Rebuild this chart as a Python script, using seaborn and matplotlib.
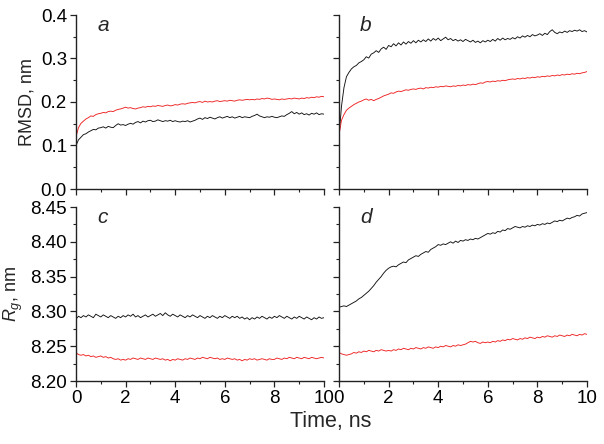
import numpy as np
import pandas as pd
import matplotlib
matplotlib.use("Agg")
import matplotlib.pyplot as plt
import seaborn as sns
from matplotlib.ticker import MultipleLocator

# ---------------- data ----------------
time_ns = np.round(np.linspace(0, 10, 101), 2)

a_red = [
    0.120, 0.141, 0.151, 0.156, 0.161, 0.164, 0.168, 0.167, 0.171, 0.173,
    0.174, 0.176, 0.175, 0.178, 0.179, 0.178, 0.181, 0.183, 0.184, 0.186,
    0.188, 0.186, 0.187, 0.185, 0.184, 0.186, 0.187, 0.189, 0.188, 0.190,
    0.189, 0.191, 0.190, 0.192, 0.191, 0.190, 0.192, 0.193, 0.191, 0.192,
    0.194, 0.193, 0.195, 0.196, 0.195, 0.197, 0.198, 0.199, 0.198, 0.200,
    0.201, 0.199, 0.202, 0.200, 0.201, 0.200, 0.202, 0.203, 0.201, 0.202,
    0.203, 0.202, 0.204, 0.203, 0.202, 0.204, 0.205, 0.204, 0.205, 0.206,
    0.205, 0.206, 0.205, 0.207, 0.206, 0.208, 0.207, 0.209, 0.208, 0.206,
    0.207, 0.206, 0.205, 0.207, 0.206, 0.207, 0.208, 0.207, 0.209, 0.208,
    0.207, 0.209, 0.208, 0.210, 0.209, 0.211, 0.210, 0.212, 0.211, 0.213,
    0.212]

a_black = [
    0.100, 0.113, 0.119, 0.125, 0.127, 0.131, 0.134, 0.137, 0.136, 0.140,
    0.141, 0.143, 0.140, 0.144, 0.142, 0.141, 0.146, 0.150, 0.147, 0.148,
    0.146, 0.149, 0.151, 0.149, 0.153, 0.155, 0.152, 0.156, 0.154, 0.157,
    0.158, 0.155, 0.156, 0.159, 0.157, 0.155, 0.157, 0.156, 0.158, 0.155,
    0.157, 0.155, 0.154, 0.156, 0.155, 0.157, 0.154, 0.156, 0.158, 0.161,
    0.163, 0.160, 0.164, 0.162, 0.165, 0.163, 0.161, 0.164, 0.166, 0.163,
    0.165, 0.167, 0.164, 0.166, 0.163, 0.165, 0.167, 0.164, 0.166, 0.165,
    0.164, 0.167, 0.169, 0.172, 0.168, 0.166, 0.164, 0.166, 0.165, 0.167,
    0.165, 0.164, 0.166, 0.168, 0.167, 0.171, 0.174, 0.178, 0.173, 0.176,
    0.172, 0.175, 0.171, 0.173, 0.170, 0.174, 0.172, 0.175, 0.171, 0.173,
    0.172]

b_black = [
    0.120, 0.190, 0.233, 0.258, 0.268, 0.276, 0.281, 0.284, 0.290, 0.293,
    0.297, 0.304, 0.301, 0.310, 0.313, 0.318, 0.314, 0.322, 0.326, 0.321,
    0.330, 0.327, 0.334, 0.329, 0.336, 0.331, 0.338, 0.333, 0.339, 0.335,
    0.341, 0.336, 0.342, 0.338, 0.343, 0.339, 0.345, 0.340, 0.346, 0.342,
    0.347, 0.341, 0.345, 0.349, 0.343, 0.346, 0.341, 0.344, 0.340, 0.343,
    0.339, 0.344, 0.341, 0.338, 0.342, 0.337, 0.340, 0.336, 0.341, 0.338,
    0.342, 0.339, 0.344, 0.340, 0.346, 0.342, 0.347, 0.343, 0.346, 0.344,
    0.348, 0.345, 0.350, 0.347, 0.352, 0.349, 0.353, 0.350, 0.355, 0.352,
    0.354, 0.357, 0.353, 0.358, 0.355, 0.362, 0.366, 0.360, 0.357, 0.361,
    0.359, 0.363, 0.360, 0.364, 0.362, 0.365, 0.363, 0.366, 0.362, 0.364,
    0.361]

b_red = [
    0.124, 0.158, 0.171, 0.181, 0.186, 0.190, 0.194, 0.197, 0.200, 0.202,
    0.205, 0.207, 0.204, 0.206, 0.203, 0.206, 0.208, 0.211, 0.214, 0.216,
    0.218, 0.221, 0.220, 0.223, 0.225, 0.224, 0.226, 0.228, 0.227, 0.229,
    0.230, 0.229, 0.231, 0.232, 0.230, 0.233, 0.232, 0.234, 0.233, 0.235,
    0.234, 0.236, 0.235, 0.237, 0.236, 0.235, 0.237, 0.236, 0.238, 0.237,
    0.239, 0.238, 0.240, 0.239, 0.241, 0.240, 0.242, 0.244, 0.243, 0.246,
    0.247, 0.246, 0.248, 0.247, 0.249, 0.248, 0.250, 0.249, 0.251, 0.252,
    0.253, 0.252, 0.254, 0.253, 0.255, 0.254, 0.256, 0.255, 0.257, 0.256,
    0.258, 0.257, 0.259, 0.258, 0.260, 0.259, 0.261, 0.260, 0.262, 0.261,
    0.263, 0.262, 0.264, 0.263, 0.265, 0.264, 0.266, 0.265, 0.267, 0.268,
    0.270]

c_black = [
    8.289, 8.293, 8.291, 8.294, 8.292, 8.295, 8.293, 8.291, 8.296, 8.294,
    8.292, 8.295, 8.293, 8.291, 8.294, 8.292, 8.290, 8.293, 8.291, 8.294,
    8.292, 8.295, 8.293, 8.296, 8.292, 8.294, 8.291, 8.293, 8.295, 8.292,
    8.294, 8.296, 8.293, 8.295, 8.297, 8.294, 8.298, 8.295, 8.293, 8.296,
    8.294, 8.292, 8.295, 8.293, 8.291, 8.294, 8.292, 8.295, 8.293, 8.291,
    8.294, 8.292, 8.290, 8.293, 8.291, 8.294, 8.292, 8.290, 8.293, 8.291,
    8.294, 8.292, 8.290, 8.293, 8.291, 8.293, 8.290, 8.292, 8.289, 8.291,
    8.288, 8.291, 8.289, 8.292, 8.290, 8.293, 8.291, 8.289, 8.292, 8.290,
    8.293, 8.291, 8.294, 8.292, 8.290, 8.293, 8.291, 8.289, 8.292, 8.290,
    8.293, 8.291, 8.289, 8.292, 8.290, 8.288, 8.291, 8.289, 8.292, 8.290,
    8.291]

c_red = [
    8.241, 8.238, 8.237, 8.238, 8.236, 8.237, 8.235, 8.236, 8.234, 8.235,
    8.236, 8.234, 8.235, 8.233, 8.234, 8.232, 8.231, 8.232, 8.230, 8.231,
    8.230, 8.232, 8.231, 8.233, 8.232, 8.231, 8.233, 8.232, 8.231, 8.233,
    8.232, 8.231, 8.233, 8.232, 8.231, 8.232, 8.230, 8.231, 8.229, 8.231,
    8.230, 8.232, 8.231, 8.230, 8.232, 8.231, 8.233, 8.232, 8.231, 8.233,
    8.232, 8.234, 8.233, 8.232, 8.234, 8.233, 8.232, 8.233, 8.231, 8.232,
    8.231, 8.233, 8.232, 8.231, 8.232, 8.230, 8.231, 8.229, 8.231, 8.230,
    8.232, 8.231, 8.232, 8.230, 8.231, 8.232, 8.231, 8.230, 8.232, 8.231,
    8.231, 8.233, 8.232, 8.231, 8.233, 8.232, 8.234, 8.233, 8.232, 8.234,
    8.233, 8.232, 8.234, 8.233, 8.232, 8.234, 8.233, 8.232, 8.233, 8.234,
    8.233]

d_black = [
    8.306, 8.307, 8.308, 8.307, 8.309, 8.311, 8.313, 8.315, 8.318, 8.320,
    8.323, 8.326, 8.329, 8.333, 8.337, 8.342, 8.346, 8.350, 8.355, 8.359,
    8.362, 8.364, 8.365, 8.364, 8.367, 8.369, 8.371, 8.370, 8.374, 8.376,
    8.378, 8.380, 8.379, 8.382, 8.384, 8.386, 8.385, 8.389, 8.391, 8.393,
    8.396, 8.395, 8.397, 8.396, 8.398, 8.400, 8.398, 8.401, 8.399, 8.402,
    8.401, 8.403, 8.402, 8.404, 8.403, 8.405, 8.404, 8.406, 8.408, 8.410,
    8.412, 8.411, 8.413, 8.412, 8.415, 8.414, 8.417, 8.416, 8.419, 8.418,
    8.420, 8.422, 8.421, 8.420, 8.422, 8.421, 8.423, 8.422, 8.424, 8.423,
    8.425, 8.424, 8.426, 8.425, 8.427, 8.426, 8.428, 8.430, 8.429, 8.431,
    8.430, 8.432, 8.434, 8.433, 8.435, 8.436, 8.438, 8.437, 8.440, 8.441,
    8.442]

d_red = [
    8.241, 8.239, 8.238, 8.237, 8.238, 8.239, 8.241, 8.240, 8.242, 8.241,
    8.243, 8.242, 8.244, 8.243, 8.242, 8.244, 8.243, 8.245, 8.244, 8.243,
    8.244, 8.243, 8.245, 8.244, 8.246, 8.245, 8.247, 8.246, 8.245, 8.247,
    8.246, 8.248, 8.247, 8.246, 8.248, 8.247, 8.249, 8.248, 8.247, 8.249,
    8.248, 8.250, 8.249, 8.251, 8.250, 8.249, 8.251, 8.250, 8.252, 8.251,
    8.252, 8.253, 8.255, 8.257, 8.256, 8.257, 8.255, 8.254, 8.256, 8.255,
    8.256, 8.255, 8.257, 8.256, 8.258, 8.257, 8.259, 8.258, 8.260, 8.259,
    8.261, 8.260, 8.259, 8.261, 8.260, 8.262, 8.261, 8.263, 8.262, 8.261,
    8.263, 8.262, 8.264, 8.263, 8.265, 8.264, 8.263, 8.265, 8.264, 8.266,
    8.265, 8.264, 8.266, 8.265, 8.267, 8.266, 8.265, 8.267, 8.266, 8.268,
    8.267]

panel_letters = ["a", "b", "c", "d"]
x_ticks = [0, 2, 4, 6, 8, 10]
rmsd_ticks = [0.0, 0.1, 0.2, 0.3, 0.4]
rg_ticks = [8.20, 8.25, 8.30, 8.35, 8.40, 8.45]

# ---------------- style ----------------
sns.set_style("ticks")
plt.rcParams["font.family"] = ["Liberation Sans", "DejaVu Sans"]
plt.rcParams["mathtext.fontset"] = "custom"
plt.rcParams["mathtext.rm"] = "Liberation Sans"
plt.rcParams["mathtext.it"] = "Liberation Sans:italic"
plt.rcParams["axes.linewidth"] = 1.0
plt.rcParams["axes.edgecolor"] = "#222222"

fig = plt.figure(figsize=(6.04, 4.44), dpi=100)
W, H = 604.0, 444.0
left_x = [76, 339]
top_y = [(15, 189), (207, 381)]
axw = 248

panels = [
    (0, 0, a_black, a_red, panel_letters[0]),
    (0, 1, b_black, b_red, panel_letters[1]),
    (1, 0, c_black, c_red, panel_letters[2]),
    (1, 1, d_black, d_red, panel_letters[3]),
]

for row, col, blk, red, letter in panels:
    y0, y1 = top_y[row]
    ax = fig.add_axes([left_x[col] / W, (H - y1) / H, axw / W, (y1 - y0) / H])
    df = pd.DataFrame({"time": np.concatenate([time_ns, time_ns]),
                       "value": np.concatenate([blk, red]),
                       "series": ["black"] * len(time_ns) + ["red"] * len(time_ns)})
    sns.lineplot(data=df, x="time", y="value", hue="series",
                 palette={"black": "#111111", "red": "#ee2222"},
                 estimator=None, lw=0.65, legend=False, ax=ax)
    ax.set_xlim(0, 10)
    ax.set_xticks(x_ticks)
    ax.xaxis.set_minor_locator(MultipleLocator(1))
    if row == 0:
        ax.set_ylim(0, 0.4)
        ax.set_yticks(rmsd_ticks)
        ax.yaxis.set_minor_locator(MultipleLocator(0.05))
        ax.set_xticklabels([])
    else:
        ax.set_ylim(8.20, 8.45)
        ax.set_yticks(rg_ticks)
        ax.yaxis.set_minor_locator(MultipleLocator(0.025))
        ax.set_xticklabels([str(t) for t in x_ticks])
    ax.set_xlabel("")
    if col == 1:
        ax.set_yticklabels([])
        ax.set_ylabel("")
    else:
        if row == 0:
            ax.set_yticklabels([f"{v:.1f}" for v in rmsd_ticks])
            ax.set_ylabel("RMSD, nm", fontsize=13, labelpad=4)
        else:
            ax.set_yticklabels([f"{v:.2f}" for v in rg_ticks])
            ax.set_ylabel(r"$R_g$, nm", fontsize=13, labelpad=4)
    sns.despine(ax=ax)
    ax.tick_params(which="major", direction="out", length=4.5, width=0.9,
                   labelsize=13.5, pad=2, colors="#222222")
    ax.tick_params(which="minor", direction="out", length=2.5, width=0.8,
                   colors="#222222")
    ax.tick_params(labelcolor="black")
    ax.text(0.085, 0.995, letter, transform=ax.transAxes, fontsize=15,
            style="italic", va="top", ha="left")

fig.text(331 / W, 1 - 421 / H, "Time, ns", fontsize=15.5, ha="center", va="center")

fig.savefig("out.png", dpi=100)
